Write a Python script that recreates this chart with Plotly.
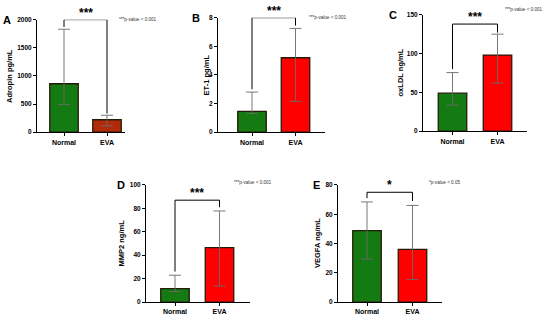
import plotly.graph_objects as go

# ---------------- data ----------------
panel_letters = ["A", "B", "C", "D", "E"]
y_titles = ["Adropin pg/mL", "ET-1 pg/mL", "oxLDL ng/mL", "MMP2 ng/mL", "VEGFA ng/mL"]
groups = ["Normal", "EVA"]
normal_means = [860, 1.45, 49, 11.5, 48.8]
eva_means = [220, 5.2, 98, 46.5, 36]
normal_err_plus = [970, 1.35, 26.5, 11.4, 19.6]
normal_err_minus = [370, 0.15, 15.5, 2.5, 19.4]
eva_err_plus = [80, 2.05, 27, 31.3, 30]
eva_err_minus = [110, 3.05, 36, 32.8, 20.6]
y_max = [2000, 8, 150, 100, 80]
y_dtick = [500, 2, 50, 20, 20]
bracket_top = [2000, 8, 138, 87, 75]
bracket_left_end = [1870, 3.0, 80, 26, 71]
bracket_right_end = [330, 7.45, 127, 81, 69]
stars = ["***", "***", "***", "***", "*"]
p_texts = ["***p-value < 0.001", "***p-value < 0.001", "***p-value < 0.001",
           "***p-value < 0.001", "*p-value < 0.05"]

# ---------------- layout geometry (pixels) ----------------
W, H = 550, 320
axis_left = [37, 218, 423, 146, 338]
axis_right = [125, 325, 527, 250, 442]
plot_top = [16, 14, 11, 185, 185]
plot_bottom = [131, 131, 130, 304.7, 304.7]
normal_cx = [64, 252, 452.5, 175, 367]
eva_cx = [107, 295.5, 497.5, 219.5, 412.5]
letter_x = [7, 196, 393, 121, 316]
ytitle_x = [10, 206.5, 400.5, 121, 317.5]
ptext_x = [117, 307, 503, 232, 427]
ptext_y = [16, 14, 6, 183, 183]

green = "#147a12"
eva_colors = ["#b32a0b", "#ff0000", "#ff0000", "#ff0000", "#ff0000"]
edge = "#241a08"
err_col = "#6a6a6a"
FONT = "Liberation Sans, Arial, sans-serif"

fig = go.Figure()
layout = dict(width=W, height=H, margin=dict(l=0, r=0, t=0, b=0),
              paper_bgcolor="white", plot_bgcolor="white", showlegend=False,
              font=dict(family=FONT, color="black"))
annotations = []
shapes = []

for i in range(5):
    sfx = "" if i == 0 else str(i + 1)
    unit = eva_cx[i] - normal_cx[i]
    xmin = -(normal_cx[i] - axis_left[i]) / unit
    xmax = 1 + (axis_right[i] - eva_cx[i]) / unit
    bw = 28.5 / unit
    fig.add_trace(go.Bar(
        x=groups, y=[normal_means[i], eva_means[i]],
        marker=dict(color=[green, eva_colors[i]], line=dict(color=edge, width=1.3)),
        width=[bw, bw],
        error_y=dict(type="data", symmetric=False,
                     array=[normal_err_plus[i], eva_err_plus[i]],
                     arrayminus=[normal_err_minus[i], eva_err_minus[i]],
                     color=err_col, thickness=0.9, width=6),
        xaxis="x" + sfx, yaxis="y" + sfx, hoverinfo="skip"))
    layout["xaxis" + sfx] = dict(
        domain=[axis_left[i] / W, axis_right[i] / W], anchor="y" + sfx,
        range=[xmin, xmax], type="category", showline=True, linecolor="black",
        linewidth=1, ticks="outside", ticklen=3, tickcolor="black",
        tickfont=dict(size=7, weight="bold"), showgrid=False, zeroline=False,
        fixedrange=True)
    layout["yaxis" + sfx] = dict(
        domain=[1 - plot_bottom[i] / H, 1 - plot_top[i] / H], anchor="x" + sfx,
        range=[0, y_max[i]], dtick=y_dtick[i], tick0=0, showline=True,
        linecolor="black", linewidth=1, ticks="outside", ticklen=3,
        tickcolor="black", tickfont=dict(size=6.5, weight="bold"),
        showgrid=False, zeroline=False, fixedrange=True)
    xr, yr = "x" + sfx, "y" + sfx
    # significance bracket
    shapes.append(dict(type="path", xref=xr, yref=yr,
                       path=f"M 0,{bracket_left_end[i]} L 0,{bracket_top[i]} "
                            f"L 1,{bracket_top[i]} L 1,{bracket_right_end[i]}",
                       line=dict(color="black", width=1)))
    annotations.append(dict(xref=xr, yref=yr, x=0.5, y=bracket_top[i],
                            text=stars[i], showarrow=False, yanchor="bottom",
                            yshift=-2, font=dict(size=12, weight="bold")))
    # p-value note
    annotations.append(dict(xref="paper", yref="paper", x=ptext_x[i] / W,
                            y=1 - ptext_y[i] / H, text=p_texts[i], showarrow=False,
                            xanchor="left", yanchor="middle",
                            font=dict(size=4.6, color="#333333")))
    # panel letter
    annotations.append(dict(xref="paper", yref="paper", x=letter_x[i] / W,
                            y=1 - plot_top[i] / H, text=panel_letters[i],
                            showarrow=False, xanchor="center", yanchor="middle",
                            font=dict(size=11, weight="bold")))
    # y-axis title
    annotations.append(dict(xref="paper", yref="paper", x=ytitle_x[i] / W,
                            y=1 - (plot_top[i] + plot_bottom[i]) / 2 / H,
                            text=y_titles[i], textangle=-90, showarrow=False,
                            xanchor="center", yanchor="middle",
                            font=dict(size=7.5, weight="bold")))

layout["annotations"] = annotations
layout["shapes"] = shapes
fig.update_layout(**layout)
fig.write_html("out.html",
               config={"displayModeBar": False, "staticPlot": True},
               post_script="document.body.style.margin='0px';"
                           "document.body.style.overflow='hidden';")
